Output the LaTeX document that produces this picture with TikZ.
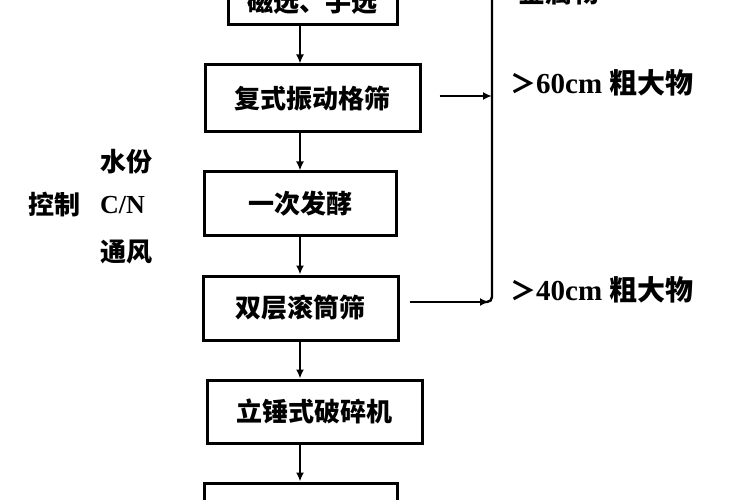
\documentclass[tikz,border=0pt]{standalone}
\usepackage{fontspec}
\setmainfont{Liberation Serif}
\newfontfamily\cjk{Noto Sans CJK SC}
\usetikzlibrary{arrows.meta}
\begin{document}
\begin{tikzpicture}[x=1pt,y=-1pt,
  box/.style={draw, line width=3pt, inner sep=0pt, font=\cjk\bfseries\fontsize{26}{26}\selectfont},
  arr/.style={line width=2.2pt, -{Latex[length=9pt,width=8pt]}},
  conn/.style={line width=2.4pt},
  lbl/.style={anchor=west, inner sep=0pt, font=\bfseries\fontsize{29}{29}\selectfont},
  side/.style={inner sep=0pt, font=\bfseries\fontsize{26}{26}\selectfont}]
\useasboundingbox (0,0) rectangle (750,500);
\clip (0,0) rectangle (750,500);
\fill[white] (0,0) rectangle (750,500);

% boxes
\node[box, minimum width=169pt, minimum height=46pt] (b1) at (312.5,2) {磁选、手选};
\node[box, minimum width=215pt, minimum height=67pt] (b2) at (312.5,98.5) {复式振动格筛};
\node[box, minimum width=192pt, minimum height=63pt] (b3) at (300,203.5) {一次发酵};
\node[box, minimum width=195pt, minimum height=64pt] (b4) at (300.5,308) {双层滚筒筛};
\node[box, minimum width=215pt, minimum height=63pt] (b5) at (314.5,411.5) {立锤式破碎机};
\node[box, minimum width=193pt, minimum height=63pt] (b6) at (300.5,514.5) {};

% column of the vertical arrows
\coordinate (ax) at (300,0);

\draw[arr] (b1.south -| ax) -- (b2.north -| ax);
\draw[arr] (b2.south -| ax) -- (b3.north -| ax);
\draw[arr] (b3.south -| ax) -- (b4.north -| ax);
\draw[arr] (b4.south -| ax) -- (b5.north -| ax);
\draw[arr] (b5.south -| ax) -- (b6.north -| ax);

% collecting line on the right
\coordinate (vtop) at (492,-10);
\coordinate (j1) at (492,96);
\coordinate (j2) at (492,302);
\coordinate (j2e) at (489,302);
\draw[conn, rounded corners=5pt] (vtop) -- (j2) -- (482,302);
\draw[arr, shorten <=18pt] (b2.east |- j1) -- (j1);
\draw[arr, shorten <=10pt] (b4.east |- j2) -- (j2e);

% right labels
\node[lbl] (l0) at (518,-8) {{\cjk\fontsize{27}{27}\selectfont 金属物}};
\node[lbl] (l1) at (510,83) {{\cjk\fontsize{26}{26}\selectfont ＞}60cm {\cjk\fontsize{28}{28}\selectfont 粗大物}};
\node[lbl] (l2) at (510,290) {{\cjk\fontsize{26}{26}\selectfont ＞}40cm {\cjk\fontsize{28}{28}\selectfont 粗大物}};

% left labels
\node[side, anchor=west] (s1) at (100,162) {{\cjk 水份}};
\node[side, anchor=west] (s2) at (28,205) {{\cjk 控制}};
\node[side, anchor=west] (s3) at (100,205) {C/N};
\node[side, anchor=west] (s4) at (100,252) {{\cjk 通风}};
\end{tikzpicture}
\end{document}
